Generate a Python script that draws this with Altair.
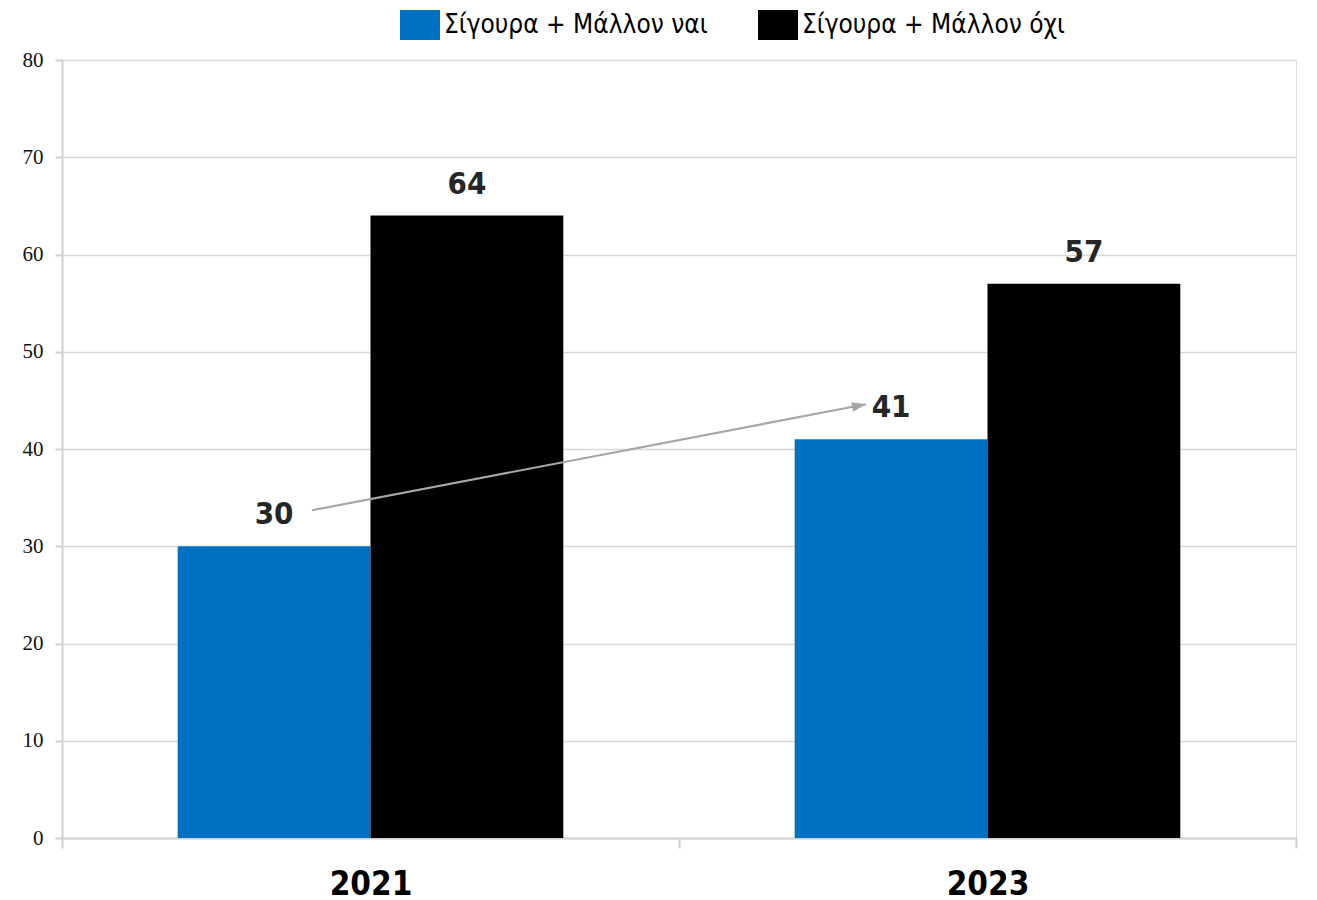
import altair as alt
import pandas as pd

years = ["2021", "2023"]
series = ["Σίγουρα + Μάλλον ναι", "Σίγουρα + Μάλλον όχι"]
yes_vals = [30, 41]
no_vals = [64, 57]
colors = ["#0070C0", "#000000"]

# arrow from the 2021 label to the 2023 label (x in year-band units, y in value units)
arrow_pos = [0.405, 1.303]
arrow_val = [33.7, 44.6]

rows = []
for i, yr in enumerate(years):
    rows.append({"year": yr, "series": series[0], "value": yes_vals[i]})
    rows.append({"year": yr, "series": series[1], "value": no_vals[i]})
df = pd.DataFrame(rows)

df_arrow = pd.DataFrame({"pos": arrow_pos, "value": arrow_val})
df_head = df_arrow.tail(1)

NARROW = "Liberation Sans Narrow, Arial Narrow, DejaVu Sans Condensed, sans-serif"
SERIF = "Liberation Serif, DejaVu Serif, serif"
LEGEND_SYM = "M-1,-0.75H1V0.75H-1Z"
ARROW_HEAD = "M0,0L-2,-0.7L-2,0.7Z"

x_enc = alt.X(
    "year:N", sort=years,
    scale=alt.Scale(paddingInner=0, paddingOuter=0),
    axis=alt.Axis(title=None, labelAngle=0, labelFont=NARROW, labelFontSize=33,
                  labelFontWeight="bold", labelColor="#000000", labelPadding=20,
                  tickBand="extent", tickSize=10, tickColor="#d0d0d0", tickWidth=2,
                  domainColor="#d0d0d0", domainWidth=2, grid=False),
)
xoff = alt.XOffset("series:N", sort=series, scale=alt.Scale(paddingInner=0, paddingOuter=0.6))
y_axis = alt.Axis(title=None, values=list(range(0, 81, 10)), labelFont=SERIF, labelFontSize=21,
                  labelColor="#111111", labelPadding=12, tickSize=7, tickColor="#d0d0d0",
                  tickWidth=2, domainColor="#d0d0d0", domainWidth=2, grid=True,
                  gridColor="#d9d9d9", gridWidth=1.5)
y_enc = alt.Y("value:Q", scale=alt.Scale(domain=[0, 80], nice=False), axis=y_axis)

bars = alt.Chart(df).mark_bar(width={"band": 1}).encode(
    x=x_enc, xOffset=xoff, y=y_enc,
    color=alt.Color("series:N", sort=series,
                    scale=alt.Scale(domain=series, range=colors),
                    legend=alt.Legend(title=None, orient="none", legendX=338, legendY=-55,
                                      direction="horizontal", symbolType=LEGEND_SYM,
                                      symbolSize=1600, symbolStrokeWidth=0,
                                      labelFont=NARROW, labelFontSize=26,
                                      labelColor="#000000", labelOffset=4,
                                      columnPadding=50, labelLimit=400)),
)

labels = alt.Chart(df).mark_text(font=NARROW, fontSize=31, fontWeight="bold",
                                 color="#262626", dy=-31, baseline="middle").encode(
    x=x_enc, xOffset=xoff, y=y_enc, text="value:Q",
)

x_arrow = alt.X("pos:Q", scale=alt.Scale(domain=[0, 2], nice=False, zero=False), axis=None)
line = alt.Chart(df_arrow).mark_line(color="#a6a6a6", strokeWidth=2.2).encode(
    x=x_arrow, y=y_enc,
)
head = alt.Chart(df_head).mark_point(shape=ARROW_HEAD, size=196, filled=True, opacity=1,
                                     color="#a6a6a6", angle=349).encode(
    x=x_arrow, y=y_enc,
)

chart = alt.layer(
    alt.layer(bars, labels),
    alt.layer(line, head),
).resolve_scale(x="independent").properties(
    width=1234, height=778,
    padding={"left": 54, "top": 52, "right": 5, "bottom": 74},
    autosize=alt.AutoSizeParams(type="none"),
).configure_view(stroke=None).configure(background="white")

chart.save("out.html", embed_options={"renderer": "svg", "actions": False})
